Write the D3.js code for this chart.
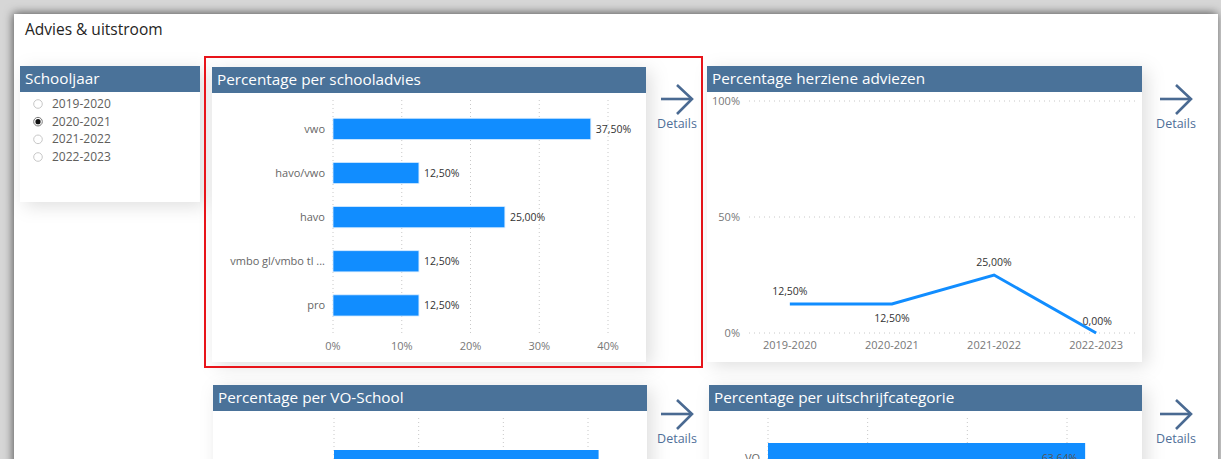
<!DOCTYPE html>
<html>
<head>
<meta charset="utf-8">
<script src="https://cdn.jsdelivr.net/npm/d3@7"></script>
<style>
  html, body { margin: 0; padding: 0; background: #fff; overflow: hidden; }
  svg { display: block; font-family: "Open Sans", "Noto Sans", sans-serif; }
</style>
</head>
<body>
<svg id="page" width="1221" height="459"></svg>
<script>
// ---- data ----
const schoolYears = ["2019-2020", "2020-2021", "2021-2022", "2022-2023"];
const selectedYear = "2020-2021";

const adviesCategories = ["vwo", "havo/vwo", "havo", "vmbo gl/vmbo tl ...", "pro"];
const adviesPercentages = [37.5, 12.5, 25.0, 12.5, 12.5];
const adviesTicks = [0, 10, 20, 30, 40];

const herzieneYears = ["2019-2020", "2020-2021", "2021-2022", "2022-2023"];
const herzienePercentages = [12.5, 12.5, 25.0, 0.0];
const herzieneTicks = [0, 50, 100];

const voSchoolPercentages = [62.5];
const voSchoolTicks = [0, 20, 40, 60];

const uitschrijfCategories = ["VO"];
const uitschrijfPercentages = [63.64];
const uitschrijfTicks = [0, 20, 40, 60];

// ---- helpers ----
const BLUE = "#118DFF";
const HEADER = "#4a7299";
const fmt = v => d3.format(".2f")(v).replace(".", ",") + "%";

const svg = d3.select("#page");
const defs = svg.append("defs");

const frameShadow = defs.append("filter").attr("id", "frameShadow")
  .attr("x", "-5%").attr("y", "-10%").attr("width", "110%").attr("height", "120%");
frameShadow.append("feDropShadow").attr("dx", -1).attr("dy", -1)
  .attr("stdDeviation", 5).attr("flood-color", "#000").attr("flood-opacity", 0.6);

const cardShadow = defs.append("filter").attr("id", "cardShadow")
  .attr("x", "-10%").attr("y", "-10%").attr("width", "125%").attr("height", "125%");
cardShadow.append("feDropShadow").attr("dx", 5).attr("dy", 4)
  .attr("stdDeviation", 9).attr("flood-color", "#000").attr("flood-opacity", 0.13);

// page canvas
svg.append("rect").attr("width", 1221).attr("height", 459).attr("fill", "#d6d6d6");
svg.append("rect").attr("x", 14).attr("y", 14).attr("width", 1204).attr("height", 470)
  .attr("fill", "#fff").attr("filter", "url(#frameShadow)");

svg.append("text").attr("x", 25).attr("y", 35)
  .attr("font-size", 15.5).attr("fill", "#252423").text("Advies & uitstroom");

function card(x, y, w, h, title) {
  const g = svg.append("g");
  g.append("rect").attr("x", x).attr("y", y).attr("width", w).attr("height", h)
    .attr("fill", "#fff").attr("filter", "url(#cardShadow)");
  g.append("rect").attr("x", x).attr("y", y).attr("width", w).attr("height", 26)
    .attr("fill", HEADER);
  g.append("text").attr("x", x + 5).attr("y", y + 18)
    .attr("font-size", 15.3).attr("fill", "#fff").text(title);
  return g;
}

function detailsButton(cx, y) {
  const g = svg.append("g").attr("stroke", "#4a6a92").attr("stroke-width", 2.6)
    .attr("fill", "none").attr("stroke-linecap", "butt");
  g.append("line").attr("x1", cx - 16).attr("x2", cx + 15).attr("y1", y + 14).attr("y2", y + 14);
  g.append("path").attr("d", `M${cx} ${y} L${cx + 15} ${y + 14} L${cx} ${y + 29}`);
  svg.append("text").attr("x", cx).attr("y", y + 43).attr("text-anchor", "middle")
    .attr("font-size", 12.5).attr("fill", "#4f6f98").text("Details");
}

// ---- Schooljaar slicer ----
card(20, 66, 180, 136, "Schooljaar");
const yearY = d3.scalePoint().domain(schoolYears).range([104, 157]);
const radios = svg.append("g").selectAll("g").data(schoolYears).join("g")
  .attr("transform", d => `translate(0,${yearY(d)})`);
radios.append("circle").attr("cx", 38).attr("cy", 0).attr("r", 4.3)
  .attr("fill", "#fff").attr("stroke", d => d === selectedYear ? "#777" : "#c8c8c8").attr("stroke-width", 1);
radios.filter(d => d === selectedYear).append("circle").attr("cx", 38).attr("cy", 0).attr("r", 2.6)
  .attr("fill", "#111");
radios.append("text").attr("x", 52).attr("y", 4).attr("font-size", 12)
  .attr("fill", "#605e5c").text(d => d);

// ---- Percentage per schooladvies ----
card(212, 67, 434, 295, "Percentage per schooladvies");
detailsButton(677, 85);
{
  const x = d3.scaleLinear().domain([0, 40]).range([333, 608]);
  const y = d3.scaleBand().domain(adviesCategories).range([106.8, 327.5])
    .paddingInner(0.52).paddingOuter(0.26);
  const g = svg.append("g");
  g.append("g").selectAll("line").data(adviesTicks).join("line")
    .attr("x1", d => x(d)).attr("x2", d => x(d)).attr("y1", 100).attr("y2", 336)
    .attr("stroke", "#c8c8c8").attr("stroke-dasharray", "1,3");
  g.append("g").selectAll("text").data(adviesTicks).join("text")
    .attr("x", d => x(d)).attr("y", 350).attr("text-anchor", "middle")
    .attr("font-size", 11).attr("fill", "#777").text(d => d + "%");
  g.append("g").selectAll("text").data(adviesCategories).join("text")
    .attr("x", 325).attr("y", d => y(d) + y.bandwidth() / 2 + 4).attr("text-anchor", "end")
    .attr("font-size", 11).attr("fill", "#666").text(d => d);
  g.append("g").selectAll("rect").data(adviesPercentages).join("rect")
    .attr("x", x(0)).attr("y", (d, i) => y(adviesCategories[i]))
    .attr("width", d => x(d) - x(0)).attr("height", y.bandwidth())
    .attr("fill", BLUE).attr("stroke", "#d6ebff").attr("stroke-width", 0.8);
  g.append("g").selectAll("text").data(adviesPercentages).join("text")
    .attr("x", d => x(d) + 5).attr("y", (d, i) => y(adviesCategories[i]) + y.bandwidth() / 2 + 4)
    .attr("font-size", 10.5).attr("fill", "#333").text(d => fmt(d));
}
// highlight frame
svg.append("rect").attr("x", 205).attr("y", 57).attr("width", 497).attr("height", 310)
  .attr("fill", "none").attr("stroke", "#e8141a").attr("stroke-width", 2);

// ---- Percentage herziene adviezen ----
card(707, 66, 435, 296, "Percentage herziene adviezen");
detailsButton(1176, 85);
{
  const x = d3.scalePoint().domain(herzieneYears).range([749, 1137]).padding(0.4);
  const y = d3.scaleLinear().domain([0, 100]).range([333, 101]);
  const g = svg.append("g");
  g.append("g").selectAll("line").data(herzieneTicks).join("line")
    .attr("x1", 749).attr("x2", 1138).attr("y1", d => y(d)).attr("y2", d => y(d))
    .attr("stroke", "#c8c8c8").attr("stroke-dasharray", "1,4");
  g.append("g").selectAll("text").data(herzieneTicks).join("text")
    .attr("x", 740).attr("y", d => y(d) + 4).attr("text-anchor", "end")
    .attr("font-size", 11).attr("fill", "#777").text(d => d + "%");
  g.append("g").selectAll("text").data(herzieneYears).join("text")
    .attr("x", d => x(d)).attr("y", 349).attr("text-anchor", "middle")
    .attr("font-size", 11).attr("fill", "#777").text(d => d);
  const line = d3.line().x((d, i) => x(herzieneYears[i])).y(d => y(d));
  g.append("path").datum(herzienePercentages).attr("d", line)
    .attr("fill", "none").attr("stroke", BLUE).attr("stroke-width", 3);
  // labels sit above the point, except where that would collide with a neighbour
  const below = [false, true, false, false];
  g.append("g").selectAll("text").data(herzienePercentages).join("text")
    .attr("x", (d, i) => x(herzieneYears[i]) + (d === 0 ? 1 : 0))
    .attr("y", (d, i) => below[i] ? y(d) + 18 : (d === 0 ? y(d) - 8 : y(d) - 9))
    .attr("text-anchor", "middle").attr("font-size", 10.5).attr("fill", "#333")
    .text(d => fmt(d));
}

// ---- Percentage per VO-School ----
card(213, 385, 434, 120, "Percentage per VO-School");
detailsButton(677, 400);
{
  const x = d3.scaleLinear().domain([0, 60]).range([334, 588]);
  const g = svg.append("g");
  g.append("g").selectAll("line").data(voSchoolTicks).join("line")
    .attr("x1", d => x(d)).attr("x2", d => x(d)).attr("y1", 418).attr("y2", 459)
    .attr("stroke", "#c8c8c8").attr("stroke-dasharray", "1,3");
  g.append("g").selectAll("rect").data(voSchoolPercentages).join("rect")
    .attr("x", x(0)).attr("y", (d, i) => 450 + i * 44).attr("width", d => x(d) - x(0)).attr("height", 21)
    .attr("fill", BLUE);
}

// ---- Percentage per uitschrijfcategorie ----
card(709, 385, 433, 120, "Percentage per uitschrijfcategorie");
detailsButton(1176, 400);
{
  const x = d3.scaleLinear().domain([0, 60]).range([768, 1067]);
  const y = d3.scaleBand().domain(uitschrijfCategories).range([443, 464]);
  const g = svg.append("g");
  g.append("g").selectAll("line").data(uitschrijfTicks).join("line")
    .attr("x1", d => x(d)).attr("x2", d => x(d)).attr("y1", 418).attr("y2", 459)
    .attr("stroke", "#c8c8c8").attr("stroke-dasharray", "1,3");
  g.append("g").selectAll("rect").data(uitschrijfPercentages).join("rect")
    .attr("x", x(0)).attr("y", (d, i) => y(uitschrijfCategories[i]))
    .attr("width", d => x(d) - x(0)).attr("height", y.bandwidth())
    .attr("fill", BLUE);
  g.append("g").selectAll("text").data(uitschrijfCategories).join("text")
    .attr("x", 760).attr("y", d => y(d) + y.bandwidth() / 2 + 8).attr("text-anchor", "end")
    .attr("font-size", 11).attr("fill", "#666").text(d => d);
  g.append("g").selectAll("text").data(uitschrijfPercentages).join("text")
    .attr("x", d => x(d) - 8).attr("y", (d, i) => y(uitschrijfCategories[i]) + y.bandwidth() / 2 + 8)
    .attr("text-anchor", "end").attr("font-size", 10.5).attr("fill", "#555").text(d => fmt(d));
}
</script>
</body>
</html>
